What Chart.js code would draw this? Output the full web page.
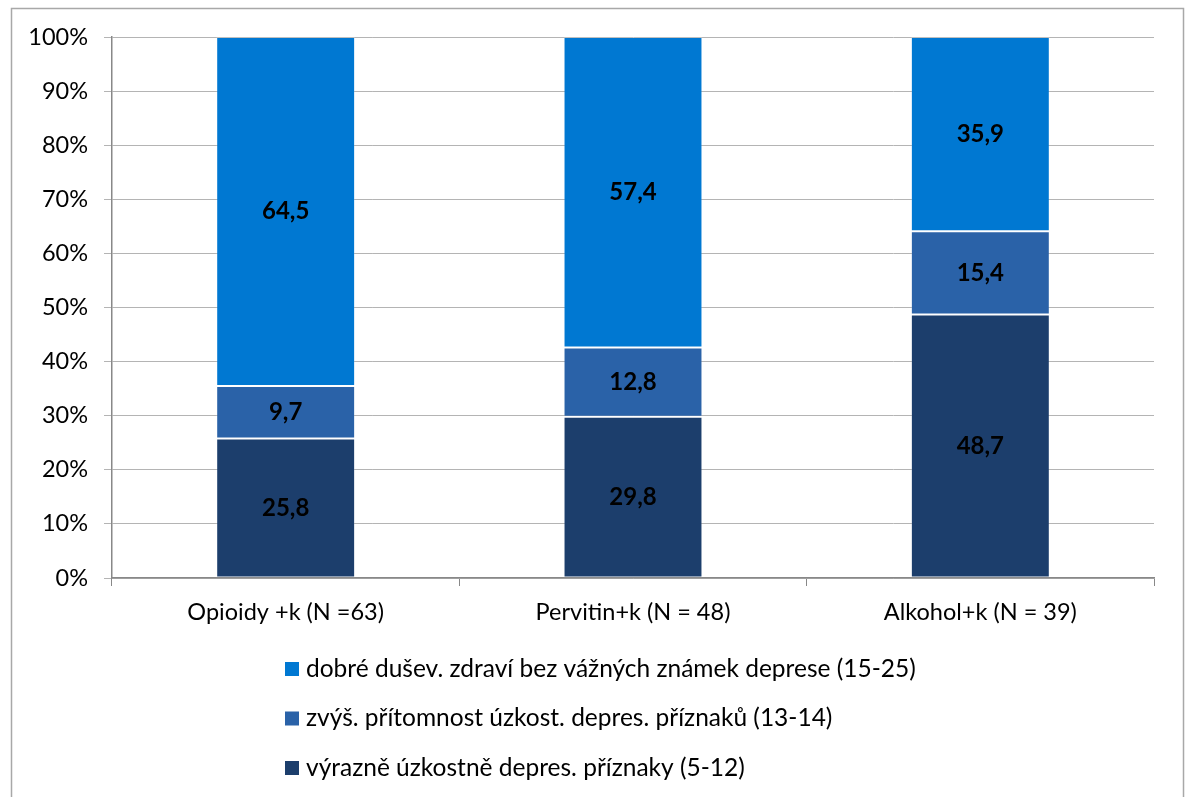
<!DOCTYPE html>
<html>
<head>
<meta charset="utf-8">
<script src="https://cdn.jsdelivr.net/npm/chart.js@4/dist/chart.umd.min.js"></script>
<style>
  html, body { margin: 0; padding: 0; background: #fff; }
  #wrap { position: relative; width: 1185px; height: 797px; }
</style>
</head>
<body>
<div id="wrap"><canvas id="chart" width="1185" height="797"></canvas></div>
<script>
const categories = ['Opioidy +k (N =63)', 'Pervitin+k (N = 48)', 'Alkohol+k (N = 39)'];
const severe = [25.8, 29.8, 48.7];
const elevated = [9.7, 12.8, 15.4];
const good = [64.5, 57.4, 35.9];
const seriesNames = [
    'výrazně úzkostně depres. příznaky (5-12)',
    'zvýš. přítomnost úzkost. depres. příznaků (13-14)',
    'dobré dušev. zdraví bez vážných známek deprese (15-25)'
];
const seriesColors = ['#1c3e6c', '#2a62a8', '#0078d2'];

const FONT = 'Lato, "Open Sans", sans-serif';

// values inside each segment, with a decimal comma
const segmentLabels = {
    id: 'segmentLabels',
    afterDatasetsDraw(chart) {
        const ctx = chart.ctx;
        ctx.save();
        ctx.font = 'bold 24px ' + FONT;
        ctx.fillStyle = '#000';
        ctx.textAlign = 'center';
        ctx.textBaseline = 'middle';
        chart.data.datasets.forEach((ds, i) => {
            chart.getDatasetMeta(i).data.forEach((bar, j) => {
                const y = (bar.y + bar.base) / 2;
                ctx.fillText(ds.data[j].toFixed(1).replace('.', ','), bar.x, y);
            });
        });
        ctx.restore();
    }
};

// outer frame and the stacked legend below the plot
const frameAndLegend = {
    id: 'frameAndLegend',
    afterDraw(chart) {
        const ctx = chart.ctx;
        ctx.save();
        ctx.strokeStyle = '#a8a8a8';
        ctx.lineWidth = 1.5;
        ctx.strokeRect(11.5, 8.5, 1172, 800);

        ctx.font = '24.5px ' + FONT;
        ctx.textAlign = 'left';
        ctx.textBaseline = 'middle';
        const items = chart.data.datasets.slice().reverse();
        items.forEach((ds, k) => {
            const cy = 669 + k * 49.5;
            ctx.fillStyle = ds.backgroundColor;
            ctx.fillRect(285, cy - 7, 14, 14);
            ctx.fillStyle = '#000';
            ctx.fillText(ds.label, 306, cy);
        });
        ctx.restore();
    }
};

new Chart(document.getElementById('chart'), {
    type: 'bar',
    data: {
        labels: categories,
        datasets: [severe, elevated, good].map((values, i) => ({
            label: seriesNames[i],
            data: values,
            backgroundColor: seriesColors[i],
            borderColor: 'rgba(255,255,255,0.15)',
            borderWidth: 1,
            borderSkipped: false,
            categoryPercentage: 1,
            barPercentage: 0.4
        }))
    },
    options: {
        responsive: false,
        animation: false,
        layout: { padding: { left: 0, right: 31, top: 37, bottom: 169 } },
        plugins: {
            legend: { display: false },
            tooltip: { enabled: false }
        },
        scales: {
            x: {
                stacked: true,
                offset: true,
                grid: { drawOnChartArea: false, color: '#888', tickLength: 8, offset: true },
                border: { color: '#888', width: 1.5 },
                ticks: { color: '#000', font: { family: FONT, size: 23.5 }, padding: 12 },
                afterFit: s => { s.height = 50; }
            },
            y: {
                stacked: true,
                min: 0,
                max: 100,
                ticks: {
                    stepSize: 10,
                    color: '#000',
                    font: { family: FONT, size: 23.5 },
                    padding: 16,
                    callback: v => v + '%'
                },
                grid: { color: '#b4b4b4', tickLength: 8 },
                border: { color: '#888', width: 1.5 },
                afterFit: s => { s.width = 112; }
            }
        }
    },
    plugins: [segmentLabels, frameAndLegend]
});
</script>
</body>
</html>
